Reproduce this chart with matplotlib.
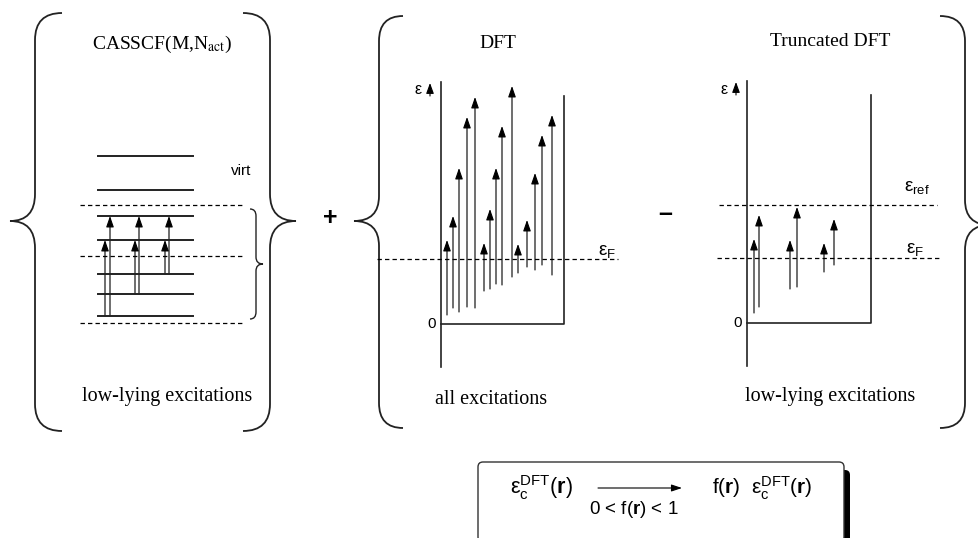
import matplotlib
matplotlib.use('Agg')
import matplotlib.pyplot as plt
from matplotlib.path import Path
from matplotlib.patches import PathPatch, FancyArrowPatch, FancyBboxPatch

plt.rcParams['mathtext.fontset'] = 'custom'
plt.rcParams['mathtext.rm'] = 'Liberation Sans'
plt.rcParams['mathtext.it'] = 'Liberation Sans:italic'
plt.rcParams['mathtext.bf'] = 'Liberation Sans:bold'

SERIF = 'Liberation Serif'
SANS = 'Liberation Sans'
EPS = '\u03b5'

# CASSCF panel: orbital levels (pixel rows) and excitations (x, from, to)
cas_levels = [156, 190, 216, 240, 274, 294, 316]
cas_dashed = [205, 256, 323]
cas_arrow_x = [105, 110, 135, 139, 165, 169]
cas_arrow_from = [316, 316, 294, 294, 274, 274]
cas_arrow_to = [240, 216, 240, 216, 240, 216]

# DFT panel: energies measured up from the well bottom
dft_x = [6, 12, 18, 26, 34, 43, 49, 55, 61, 71, 77, 86, 94, 101, 111]
dft_lo = [9, 16, 12, 17, 16, 33, 35, 40, 39, 47, 51, 57, 54, 59, 49]
dft_hi = [84, 108, 156, 207, 227, 81, 115, 156, 198, 238, 80, 104, 151, 189, 209]
dft_fermi = 65

# truncated DFT panel
tr_x = [7, 12, 43, 50, 77, 87]
tr_lo = [10, 16, 34, 36, 51, 58]
tr_hi = [84, 108, 83, 116, 80, 104]
tr_fermi = 65
tr_ref = 118

fig = plt.figure(figsize=(9.79, 5.38), dpi=100)
ax = fig.add_axes([0, 0, 1, 1])
ax.set_xlim(0, 979)
ax.set_ylim(538, 0)
ax.axis('off')


def brace(xe, xb, xt, yt, ym, yb, r, lw=1.3):
    # curly brace: ends at xe, body at xb, tip at xt
    verts = [(xe, yt), (xb, yt), (xb, yt + r),
             (xb, ym - r), (xb, ym), (xt, ym),
             (xb, ym), (xb, ym + r),
             (xb, yb - r), (xb, yb), (xe, yb)]
    codes = [Path.MOVETO, Path.CURVE3, Path.CURVE3,
             Path.LINETO, Path.CURVE3, Path.CURVE3,
             Path.CURVE3, Path.CURVE3,
             Path.LINETO, Path.CURVE3, Path.CURVE3]
    ax.add_patch(PathPatch(Path(verts, codes), fill=False, lw=lw, color='#222222'))


def arrow(x, y0, y1, lw=0.8):
    ax.add_patch(FancyArrowPatch((x, y0), (x, y1), arrowstyle='-|>,head_length=0.95,head_width=0.33',
                                 mutation_scale=7, lw=lw, color='black', shrinkA=0, shrinkB=0))


def dashed(x0, x1, y):
    ax.plot([x0, x1], [y, y], color='black', lw=0.9, ls=(0, (3.5, 2.5)))


# big braces
brace(62, 35, 10, 13, 221, 431, 27)
brace(243, 270, 296, 13, 221, 431, 27)
brace(403, 379, 354, 16, 221, 428, 25)
brace(940, 965, 990, 16, 225, 428, 25)
brace(250, 256, 263, 209, 264, 319, 7, lw=1.0)

ax.text(330, 218, '+', fontsize=18, fontweight='bold', fontfamily=SANS, ha='center', va='center')
ax.text(665, 214, '\u2013', fontsize=18, fontweight='bold', fontfamily=SANS, ha='center', va='center')

# ---- CASSCF panel
ax.text(162, 44, r'CASSCF(M,N$_{\mathrm{act}}$)', fontsize=14, fontfamily=SERIF,
        math_fontfamily='stix', ha='center', va='center')
for y in cas_levels:
    ax.plot([98, 193], [y, y], color='#222222', lw=1.4)
for y in cas_dashed:
    dashed(80, 243, y)
for x, a, b in zip(cas_arrow_x, cas_arrow_from, cas_arrow_to):
    arrow(x, a, b)
ax.text(241, 171, 'virt', fontsize=11, fontfamily=SANS, ha='center', va='center')
ax.text(167, 397, 'low-lying excitations', fontsize=14.5, fontfamily=SERIF, ha='center', va='center')


def well(x0, x1, zero, top_l, top_r):
    ax.plot([x0, x0], [zero - top_l, zero + 43], color='#222222', lw=1.2)
    ax.plot([x0, x1, x1], [zero, zero, zero - top_r], color='#222222', lw=1.2)
    ax.text(x0 - 9, zero, '0', fontsize=11, fontfamily=SANS, ha='center', va='center')
    ax.text(x0 - 23, zero - 234, EPS, fontsize=11.5, fontfamily=SANS, ha='center', va='center')
    ax.add_patch(FancyArrowPatch((x0 - 11, zero - 228), (x0 - 11, zero - 241),
                                 arrowstyle='-|>,head_length=0.9,head_width=0.33',
                                 mutation_scale=7, lw=0.8, color='black', shrinkA=0, shrinkB=0))


# ---- DFT panel
z = 324
ax.text(498, 43, 'DFT', fontsize=14, fontfamily=SERIF, ha='center', va='center')
well(441, 564, z, 242, 228)
dashed(377, 618, z - dft_fermi)
ax.text(607, 251, EPS + r'$_{\mathrm{F}}$', fontsize=13.5, fontfamily=SANS, ha='center', va='center')
for x, a, b in zip(dft_x, dft_lo, dft_hi):
    arrow(441 + x, z - a, z - b)
ax.text(491, 400, 'all excitations', fontsize=14.5, fontfamily=SERIF, ha='center', va='center')

# ---- truncated DFT panel
z = 323
ax.text(830, 42, 'Truncated DFT', fontsize=14, fontfamily=SERIF, ha='center', va='center')
well(747, 871, z, 242, 228)
dashed(719, 937, z - tr_ref)
dashed(717, 941, z - tr_fermi)
ax.text(917, 187, EPS + r'$_{\mathrm{ref}}$', fontsize=13.5, fontfamily=SANS, ha='center', va='center')
ax.text(915, 249, EPS + r'$_{\mathrm{F}}$', fontsize=13.5, fontfamily=SANS, ha='center', va='center')
for x, a, b in zip(tr_x, tr_lo, tr_hi):
    arrow(747 + x, z - a, z - b)
ax.text(830, 397, 'low-lying excitations', fontsize=14.5, fontfamily=SERIF, ha='center', va='center')

# ---- scaling box
ax.add_patch(FancyBboxPatch((484, 470), 366, 80, boxstyle='round,pad=0,rounding_size=5',
                            facecolor='black', edgecolor='black', lw=0))
ax.add_patch(FancyBboxPatch((478, 462), 366, 80, boxstyle='round,pad=0,rounding_size=5',
                            facecolor='white', edgecolor='#333333', lw=1.0))
ax.text(541, 488, EPS + r'$_{\mathrm{c}}^{\mathrm{DFT}}(\mathbf{r})$',
        fontsize=15.5, fontfamily=SANS, ha='center', va='center')
ax.add_patch(FancyArrowPatch((598, 488), (682, 488), arrowstyle='-|>,head_length=0.9,head_width=0.3',
                             mutation_scale=7, lw=0.8, color='black', shrinkA=0, shrinkB=0))
ax.text(634, 510, r'0 < f($\mathbf{r}$) < 1', fontsize=13.5, fontfamily=SANS, ha='center', va='center')
ax.text(762, 488, r'f($\mathbf{r}$)  ' + EPS + r'$_{\mathrm{c}}^{\mathrm{DFT}}(\mathbf{r})$',
        fontsize=15, fontfamily=SANS, ha='center', va='center')

fig.savefig('out.png', dpi=100, facecolor='white')
